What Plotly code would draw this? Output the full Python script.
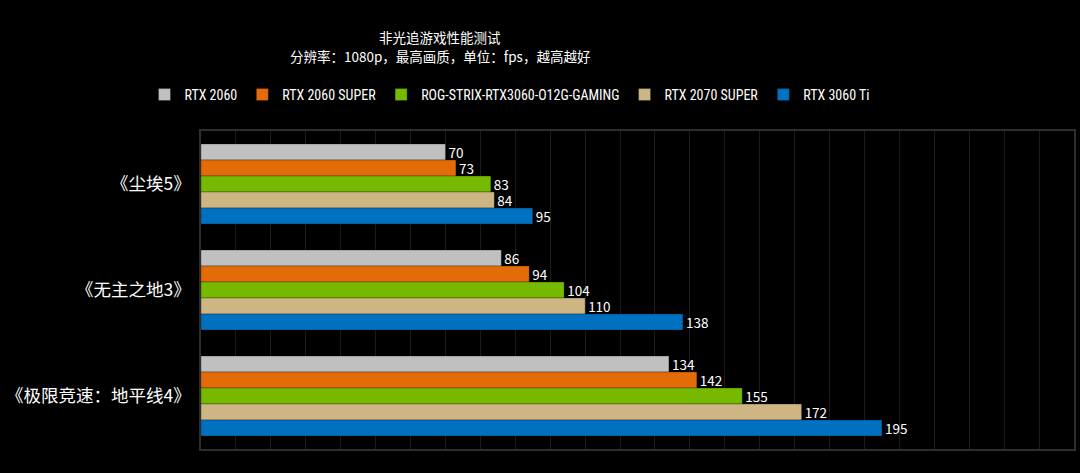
import plotly.graph_objects as go

games = ["《尘埃5》", "《无主之地3》", "《极限竞速：地平线4》"]
series_names = ["RTX 2060", "RTX 2060 SUPER", "ROG-STRIX-RTX3060-O12G-GAMING", "RTX 2070 SUPER", "RTX 3060 Ti"]
rtx2060 = [70, 86, 134]
rtx2060s = [73, 94, 142]
rog3060 = [83, 104, 155]
rtx2070s = [84, 110, 172]
rtx3060ti = [95, 138, 195]
values = [rtx2060, rtx2060s, rog3060, rtx2070s, rtx3060ti]
colors = ["#c0c0c0", "#e36c09", "#76b900", "#cdb584", "#0070c0"]
title_line1 = "非光追游戏性能测试"
title_line2 = "分辨率：1080p，最高画质，单位：fps，越高越好"

FONT = "Noto Sans CJK SC, Microsoft YaHei, sans-serif"
NARROW = "Liberation Sans Narrow, Roboto Condensed, Roboto, sans-serif"

W, H = 1080, 473
PL, PR, PT, PB = 201, 1074, 131, 449


def px_x(x):
    return (x - PL) / (PR - PL)


def px_y(y):
    return (PB - y) / (PB - PT)


fig = go.Figure()
for name, vals, col in zip(series_names, values, colors):
    fig.add_trace(go.Bar(
        y=games, x=vals, name=name, orientation="h",
        marker=dict(color=col, line=dict(color="rgba(0,0,0,0.35)", width=0.8)),
        text=[str(v) for v in vals], textposition="outside",
        constraintext="none",
        textfont=dict(color="#ffffff", size=13.5, family=FONT),
        cliponaxis=False,
    ))

fig.add_annotation(text=title_line1, xref="paper", yref="paper",
                   x=px_x(440), y=px_y(37), xanchor="center", yanchor="middle",
                   showarrow=False, font=dict(size=13.5, color="#ffffff", family=FONT))
fig.add_annotation(text=title_line2, xref="paper", yref="paper",
                   x=px_x(440), y=px_y(56), xanchor="center", yanchor="middle",
                   showarrow=False, font=dict(size=13.5, color="#ffffff", family=FONT))

fig.update_layout(
    width=W, height=H,
    paper_bgcolor="#000000", plot_bgcolor="#000000",
    barmode="group", bargap=0.245, bargroupgap=0,
    margin=dict(l=PL, r=W - PR, t=PT, b=H - PB, autoexpand=False),
    font=dict(family=FONT, color="#ffffff", size=13),
    legend=dict(
        orientation="h", xref="container", yref="container",
        x=510 / W, xanchor="center", y=1 - 95 / H, yanchor="middle",
        font=dict(size=14, color="#ffffff", family=NARROW),
        itemwidth=30, traceorder="normal",
        bgcolor="rgba(0,0,0,0)",
    ),
    xaxis=dict(
        range=[0, 250], dtick=10, showticklabels=False,
        showgrid=True, gridcolor="#1c1c1c", gridwidth=1,
        zeroline=False, showline=True, linecolor="#2e2e2e", linewidth=1.5, mirror=True,
        ticks="",
    ),
    yaxis=dict(
        autorange="reversed", showgrid=False, zeroline=False,
        showline=True, linecolor="#2e2e2e", linewidth=1.5, mirror=True,
        tickfont=dict(size=17.5, color="#ffffff", family=FONT), ticks="",
        ticklabelstandoff=5,
    ),
)

fig.write_html(
    "out.html",
    config={"displayModeBar": False},
    post_script="document.body.style.margin='0';document.body.style.background='#000';",
)
